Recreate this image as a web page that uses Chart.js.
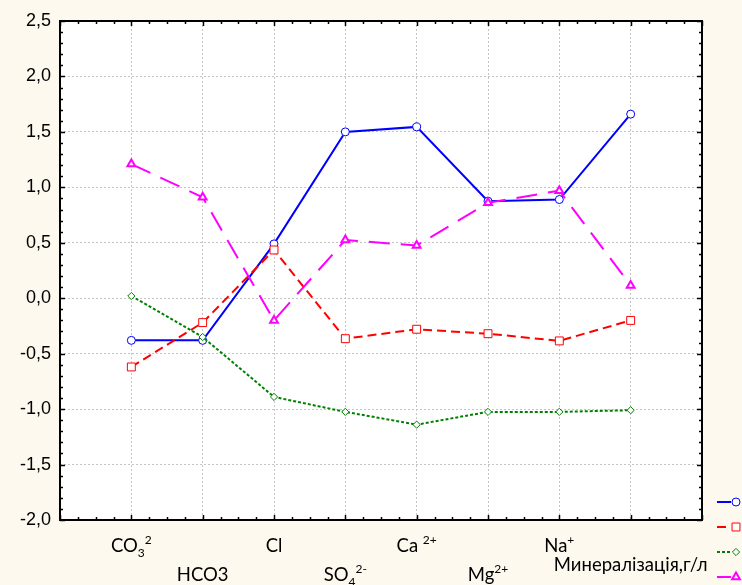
<!DOCTYPE html>
<html>
<head>
<meta charset="utf-8">
<script src="https://cdn.jsdelivr.net/npm/chart.js@4/dist/chart.umd.min.js"></script>
<style>
  html, body { margin: 0; padding: 0; background: #fdf9ee; }
  canvas { display: block; }
</style>
</head>
<body>
<canvas id="c" width="742" height="585"></canvas>
<script>
// ---------- data ----------
const categories = ['CO_3^2', 'HCO3', 'Cl', 'SO_4^2-', 'Ca ^2+', 'Mg^2+', 'Na^+', 'Минералізація,г/л'];
const seriesBlue    = [-0.38, -0.38, 0.49, 1.50, 1.545, 0.875, 0.89, 1.66];
const seriesRed     = [-0.62, -0.22, 0.435, -0.365, -0.28, -0.32, -0.385, -0.20];
const seriesGreen   = [0.02, -0.35, -0.89, -1.025, -1.14, -1.025, -1.025, -1.01];
const seriesMagenta = [1.21, 0.91, -0.20, 0.525, 0.475, 0.86, 0.97, 0.115];
const yTickLabels = ['-2,0', '-1,5', '-1,0', '-0,5', '0,0', '0,5', '1,0', '1,5', '2,0', '2,5'];
const yMin = -2.0, yMax = 2.5, yStep = 0.5;

const toPoints = arr => arr.map((v, i) => ({ x: i + 1, y: v }));

const CREAM = '#fdf9ee';

const bgPlugin = {
  id: 'bg',
  beforeDraw(chart) {
    const { ctx, chartArea: a } = chart;
    ctx.save();
    ctx.fillStyle = CREAM;
    ctx.fillRect(0, 0, chart.width, chart.height);
    ctx.fillStyle = '#ffffff';
    ctx.fillRect(a.left, a.top, a.right - a.left, a.bottom - a.top);
    ctx.restore();
  }
};

function parseLabel(s) {
  const segs = []; let mode = 'n'; let buf = '';
  for (const ch of s) {
    if (ch === '_' || ch === '^') {
      if (buf) segs.push({ t: buf, k: mode });
      buf = ''; mode = ch === '_' ? 'sub' : 'sup';
      continue;
    }
    buf += ch;
  }
  if (buf) segs.push({ t: buf, k: mode });
  return segs;
}

const frameAndLabels = {
  id: 'frameAndLabels',
  afterDraw(chart) {
    const { ctx, chartArea: a } = chart;
    const xs = chart.scales.x, ys = chart.scales.y;
    ctx.save();
    // frame
    ctx.strokeStyle = '#000';
    ctx.lineWidth = 2;
    ctx.setLineDash([]);
    ctx.strokeRect(a.left, a.top, a.right - a.left, a.bottom - a.top);
    // ticks
    ctx.lineWidth = 1.5;
    ctx.beginPath();
    for (let k = 0; k <= 45; k++) {
      const v = yMin + k * 0.1;
      const py = Math.round(ys.getPixelForValue(v)) + 0.5;
      const len = (k % 5 === 0) ? 5 : 3;
      ctx.moveTo(a.left, py); ctx.lineTo(a.left + len, py);
      ctx.moveTo(a.right, py); ctx.lineTo(a.right - len, py);
    }
    for (let k = 0; k <= 36; k++) {
      const v = k * 0.25;
      const px = Math.round(xs.getPixelForValue(v)) + 0.5;
      const len = (k % 4 === 0) ? 5 : 3;
      ctx.moveTo(px, a.top); ctx.lineTo(px, a.top + len);
      ctx.moveTo(px, a.bottom); ctx.lineTo(px, a.bottom - len);
    }
    ctx.stroke();

    // category labels
    const fam = "Lato, 'Open Sans', 'Noto Sans', sans-serif";
    const mainSize = 18.5, smallSize = 12;
    ctx.fillStyle = '#000';
    ctx.textBaseline = 'alphabetic';
    ctx.textAlign = 'left';
    categories.forEach((lab, i) => {
      const segs = parseLabel(lab);
      let w = 0;
      segs.forEach(s => {
        ctx.font = (s.k === 'n' ? mainSize : smallSize) + 'px ' + fam;
        s.w = ctx.measureText(s.t).width; w += s.w;
      });
      const cx = xs.getPixelForValue(i + 1);
      let base = a.bottom + (i % 2 === 0 ? 32 : 61);
      if (i === categories.length - 1) base = a.bottom + 51;
      let x = cx - w / 2;
      segs.forEach(s => {
        ctx.font = (s.k === 'n' ? mainSize : smallSize) + 'px ' + fam;
        const dy = s.k === 'sub' ? 5 : (s.k === 'sup' ? -8 : 0);
        ctx.fillText(s.t, x, base + dy);
        x += s.w;
      });
    });

    // legend samples (text lies outside the canvas in the reference)
    const lx0 = a.right + 15, lx1 = a.right + 29, mx = a.right + 34;
    chart.data.datasets.forEach((ds, i) => {
      const y = a.bottom - 18 + i * 25;
      ctx.strokeStyle = ds.borderColor;
      ctx.lineWidth = ds.borderWidth;
      ctx.setLineDash(ds.borderDash || []);
      ctx.beginPath(); ctx.moveTo(lx0, y); ctx.lineTo(lx1, y); ctx.stroke();
      ctx.setLineDash([]);
      drawMarker(ctx, ds.pointStyle, mx, y, ds.pointRadius, ds.pointBorderColor, ds.pointBorderWidth);
    });
    ctx.restore();
  }
};

function drawMarker(ctx, style, x, y, r, color, bw) {
  ctx.save();
  ctx.fillStyle = '#fff';
  ctx.strokeStyle = color;
  ctx.lineWidth = bw;
  ctx.beginPath();
  if (style === 'circle') {
    ctx.arc(x, y, r, 0, Math.PI * 2);
  } else if (style === 'rect') {
    const s = Math.SQRT1_2 * r;
    ctx.rect(x - s, y - s, 2 * s, 2 * s);
  } else if (style === 'rectRot') {
    ctx.moveTo(x, y - r); ctx.lineTo(x + r, y); ctx.lineTo(x, y + r); ctx.lineTo(x - r, y); ctx.closePath();
  } else if (style === 'triangle') {
    for (let k = 0; k < 3; k++) {
      const ang = k * 2 * Math.PI / 3;
      const px = x + Math.sin(ang) * r, py = y - Math.cos(ang) * r;
      if (k === 0) ctx.moveTo(px, py); else ctx.lineTo(px, py);
    }
    ctx.closePath();
  }
  ctx.fill(); ctx.stroke();
  ctx.restore();
}

function mkDataset(label, data, color, dash, style, radius, pbw, order) {
  return {
    label, data: toPoints(data),
    borderColor: color, backgroundColor: color,
    borderWidth: 2, borderDash: dash,
    pointStyle: style, pointRadius: radius, pointHoverRadius: radius,
    pointBackgroundColor: '#ffffff', pointBorderColor: color, pointBorderWidth: pbw,
    tension: 0, fill: false, order
  };
}

const chart = new Chart(document.getElementById('c'), {
  type: 'line',
  data: {
    datasets: [
      mkDataset('1', seriesBlue, '#0000ff', [], 'circle', 4, 1, 4),
      mkDataset('2', seriesRed, '#ff0000', [9, 5], 'rect', 5.6, 1, 3),
      mkDataset('3', seriesGreen, '#008000', [3, 2], 'rectRot', 3.6, 1, 2),
      mkDataset('4', seriesMagenta, '#ff00ff', [21, 11], 'triangle', 4.5, 2, 1)
    ]
  },
  options: {
    responsive: false,
    devicePixelRatio: 1,
    animation: false,
    events: [],
    layout: { padding: { top: 21, right: 40, left: 0, bottom: 0 } },
    plugins: { legend: { display: false }, tooltip: { enabled: false } },
    scales: {
      x: {
        type: 'linear', min: 0, max: categories.length + 1,
        afterBuildTicks: s => { s.ticks = categories.map((_, i) => ({ value: i + 1 })); },
        afterFit: s => { s.height = 65; },
        ticks: { display: false },
        border: { display: false, dash: [2, 2] },
        grid: { color: '#c4c4c4', lineWidth: 1, drawTicks: false }
      },
      y: {
        type: 'linear', min: yMin, max: yMax,
        afterBuildTicks: s => {
          s.ticks = yTickLabels.map((_, i) => ({ value: yMin + i * yStep }));
        },
        afterFit: s => { s.width = 60; },
        ticks: {
          padding: 9,
          color: '#000',
          font: { family: "'Liberation Sans', Arial, sans-serif", size: 18 },
          callback: (v, i) => yTickLabels[i]
        },
        border: { display: false, dash: [2, 2] },
        grid: {
          drawTicks: false, lineWidth: 1,
          color: c => (c.tick && (c.tick.value === yMin || c.tick.value === yMax)) ? 'rgba(0,0,0,0)' : '#c4c4c4'
        }
      }
    }
  },
  plugins: [bgPlugin, frameAndLabels]
});
</script>
</body>
</html>
